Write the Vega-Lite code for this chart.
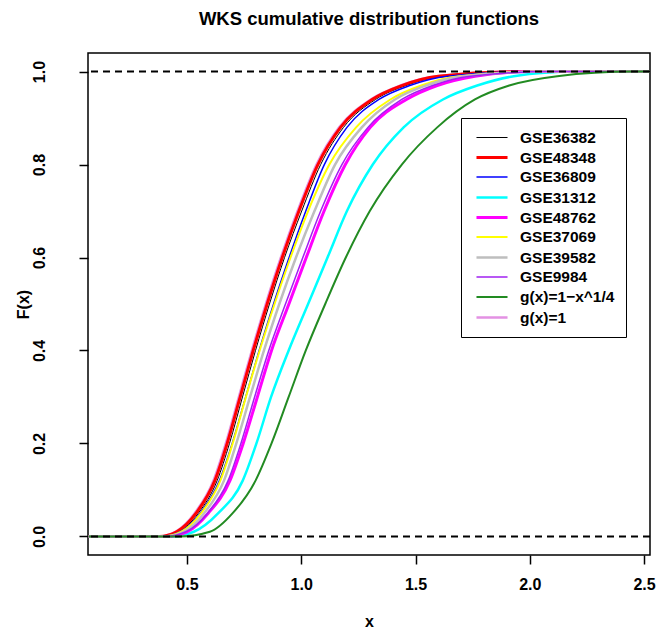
{
  "$schema": "https://vega.github.io/schema/vega-lite/v6.json",
  "width": 562,
  "height": 502,
  "autosize": {"type": "none"},
  "padding": {"left": 88, "top": 53, "right": 7, "bottom": 80},
  "background": "white",
  "title": {"text": "WKS cumulative distribution functions", "fontSize": 18.5, "font": "Liberation Sans", "fontWeight": "bold", "anchor": "middle", "offset": 25, "color": "black"},
  "config": {
    "view": {"stroke": "black", "strokeWidth": 1.5},
    "axis": {"domain": false, "grid": false, "tickColor": "black", "tickWidth": 1.5, "tickSize": 9, "labelFont": "Liberation Sans", "labelFontSize": 16, "labelFontWeight": "bold", "labelColor": "black", "titleFont": "Liberation Sans", "titleFontSize": 16, "titleFontWeight": "bold", "titleColor": "black"}
  },
  "datasets": {
    "curves": [
      {"series": "g(x)=1", "x": 0.07, "F": 0}, {"series": "g(x)=1", "x": 0.374, "F": 0}, {"series": "g(x)=1", "x": 0.449, "F": 0.01}, {"series": "g(x)=1", "x": 0.534, "F": 0.05}, {"series": "g(x)=1", "x": 0.616, "F": 0.12}, {"series": "g(x)=1", "x": 0.67, "F": 0.2}, {"series": "g(x)=1", "x": 0.727, "F": 0.3}, {"series": "g(x)=1", "x": 0.784, "F": 0.4}, {"series": "g(x)=1", "x": 0.845, "F": 0.5}, {"series": "g(x)=1", "x": 0.911, "F": 0.6}, {"series": "g(x)=1", "x": 0.984, "F": 0.7}, {"series": "g(x)=1", "x": 1.067, "F": 0.8}, {"series": "g(x)=1", "x": 1.166, "F": 0.88}, {"series": "g(x)=1", "x": 1.304, "F": 0.94}, {"series": "g(x)=1", "x": 1.434, "F": 0.97}, {"series": "g(x)=1", "x": 1.594, "F": 0.99}, {"series": "g(x)=1", "x": 1.95, "F": 1}, {"series": "g(x)=1", "x": 2.526, "F": 1},

      {"series": "GSE36382", "x": 0.07, "F": 0}, {"series": "GSE36382", "x": 0.39, "F": 0}, {"series": "GSE36382", "x": 0.465, "F": 0.01}, {"series": "GSE36382", "x": 0.55, "F": 0.05}, {"series": "GSE36382", "x": 0.632, "F": 0.12}, {"series": "GSE36382", "x": 0.686, "F": 0.2}, {"series": "GSE36382", "x": 0.743, "F": 0.3}, {"series": "GSE36382", "x": 0.8, "F": 0.4}, {"series": "GSE36382", "x": 0.861, "F": 0.5}, {"series": "GSE36382", "x": 0.927, "F": 0.6}, {"series": "GSE36382", "x": 1.002, "F": 0.7}, {"series": "GSE36382", "x": 1.085, "F": 0.8}, {"series": "GSE36382", "x": 1.185, "F": 0.88}, {"series": "GSE36382", "x": 1.325, "F": 0.94}, {"series": "GSE36382", "x": 1.458, "F": 0.97}, {"series": "GSE36382", "x": 1.62, "F": 0.99}, {"series": "GSE36382", "x": 1.98, "F": 1}, {"series": "GSE36382", "x": 2.526, "F": 1},

      {"series": "GSE48348", "x": 0.07, "F": 0}, {"series": "GSE48348", "x": 0.38, "F": 0}, {"series": "GSE48348", "x": 0.455, "F": 0.01}, {"series": "GSE48348", "x": 0.54, "F": 0.05}, {"series": "GSE48348", "x": 0.622, "F": 0.12}, {"series": "GSE48348", "x": 0.676, "F": 0.2}, {"series": "GSE48348", "x": 0.733, "F": 0.3}, {"series": "GSE48348", "x": 0.79, "F": 0.4}, {"series": "GSE48348", "x": 0.851, "F": 0.5}, {"series": "GSE48348", "x": 0.917, "F": 0.6}, {"series": "GSE48348", "x": 0.99, "F": 0.7}, {"series": "GSE48348", "x": 1.073, "F": 0.8}, {"series": "GSE48348", "x": 1.172, "F": 0.88}, {"series": "GSE48348", "x": 1.31, "F": 0.94}, {"series": "GSE48348", "x": 1.44, "F": 0.97}, {"series": "GSE48348", "x": 1.6, "F": 0.99}, {"series": "GSE48348", "x": 1.95, "F": 1}, {"series": "GSE48348", "x": 2.526, "F": 1},

      {"series": "GSE36809", "x": 0.07, "F": 0}, {"series": "GSE36809", "x": 0.39, "F": 0}, {"series": "GSE36809", "x": 0.47, "F": 0.01}, {"series": "GSE36809", "x": 0.558, "F": 0.05}, {"series": "GSE36809", "x": 0.642, "F": 0.12}, {"series": "GSE36809", "x": 0.698, "F": 0.2}, {"series": "GSE36809", "x": 0.757, "F": 0.3}, {"series": "GSE36809", "x": 0.816, "F": 0.4}, {"series": "GSE36809", "x": 0.879, "F": 0.5}, {"series": "GSE36809", "x": 0.947, "F": 0.6}, {"series": "GSE36809", "x": 1.02, "F": 0.7}, {"series": "GSE36809", "x": 1.101, "F": 0.8}, {"series": "GSE36809", "x": 1.2, "F": 0.88}, {"series": "GSE36809", "x": 1.34, "F": 0.94}, {"series": "GSE36809", "x": 1.475, "F": 0.97}, {"series": "GSE36809", "x": 1.64, "F": 0.99}, {"series": "GSE36809", "x": 2.0, "F": 1}, {"series": "GSE36809", "x": 2.526, "F": 1},

      {"series": "GSE31312", "x": 0.07, "F": 0}, {"series": "GSE31312", "x": 0.43, "F": 0}, {"series": "GSE31312", "x": 0.53, "F": 0.01}, {"series": "GSE31312", "x": 0.637, "F": 0.05}, {"series": "GSE31312", "x": 0.744, "F": 0.12}, {"series": "GSE31312", "x": 0.804, "F": 0.2}, {"series": "GSE31312", "x": 0.868, "F": 0.3}, {"series": "GSE31312", "x": 0.945, "F": 0.4}, {"series": "GSE31312", "x": 1.03, "F": 0.5}, {"series": "GSE31312", "x": 1.115, "F": 0.6}, {"series": "GSE31312", "x": 1.2, "F": 0.7}, {"series": "GSE31312", "x": 1.313, "F": 0.8}, {"series": "GSE31312", "x": 1.448, "F": 0.88}, {"series": "GSE31312", "x": 1.62, "F": 0.94}, {"series": "GSE31312", "x": 1.77, "F": 0.97}, {"series": "GSE31312", "x": 1.93, "F": 0.99}, {"series": "GSE31312", "x": 2.2, "F": 1}, {"series": "GSE31312", "x": 2.526, "F": 1},

      {"series": "GSE48762", "x": 0.07, "F": 0}, {"series": "GSE48762", "x": 0.41, "F": 0}, {"series": "GSE48762", "x": 0.5, "F": 0.01}, {"series": "GSE48762", "x": 0.593, "F": 0.05}, {"series": "GSE48762", "x": 0.688, "F": 0.12}, {"series": "GSE48762", "x": 0.746, "F": 0.2}, {"series": "GSE48762", "x": 0.808, "F": 0.3}, {"series": "GSE48762", "x": 0.87, "F": 0.4}, {"series": "GSE48762", "x": 0.946, "F": 0.5}, {"series": "GSE48762", "x": 1.022, "F": 0.6}, {"series": "GSE48762", "x": 1.1, "F": 0.7}, {"series": "GSE48762", "x": 1.193, "F": 0.8}, {"series": "GSE48762", "x": 1.302, "F": 0.88}, {"series": "GSE48762", "x": 1.46, "F": 0.94}, {"series": "GSE48762", "x": 1.595, "F": 0.97}, {"series": "GSE48762", "x": 1.76, "F": 0.99}, {"series": "GSE48762", "x": 2.0, "F": 1}, {"series": "GSE48762", "x": 2.526, "F": 1},

      {"series": "GSE37069", "x": 0.07, "F": 0}, {"series": "GSE37069", "x": 0.395, "F": 0}, {"series": "GSE37069", "x": 0.475, "F": 0.01}, {"series": "GSE37069", "x": 0.562, "F": 0.05}, {"series": "GSE37069", "x": 0.646, "F": 0.12}, {"series": "GSE37069", "x": 0.7, "F": 0.2}, {"series": "GSE37069", "x": 0.758, "F": 0.3}, {"series": "GSE37069", "x": 0.818, "F": 0.4}, {"series": "GSE37069", "x": 0.883, "F": 0.5}, {"series": "GSE37069", "x": 0.953, "F": 0.6}, {"series": "GSE37069", "x": 1.03, "F": 0.7}, {"series": "GSE37069", "x": 1.123, "F": 0.8}, {"series": "GSE37069", "x": 1.24, "F": 0.88}, {"series": "GSE37069", "x": 1.39, "F": 0.94}, {"series": "GSE37069", "x": 1.525, "F": 0.97}, {"series": "GSE37069", "x": 1.69, "F": 0.99}, {"series": "GSE37069", "x": 2.05, "F": 1}, {"series": "GSE37069", "x": 2.526, "F": 1},

      {"series": "GSE39582", "x": 0.07, "F": 0}, {"series": "GSE39582", "x": 0.4, "F": 0}, {"series": "GSE39582", "x": 0.485, "F": 0.01}, {"series": "GSE39582", "x": 0.575, "F": 0.05}, {"series": "GSE39582", "x": 0.662, "F": 0.12}, {"series": "GSE39582", "x": 0.716, "F": 0.2}, {"series": "GSE39582", "x": 0.776, "F": 0.3}, {"series": "GSE39582", "x": 0.837, "F": 0.4}, {"series": "GSE39582", "x": 0.904, "F": 0.5}, {"series": "GSE39582", "x": 0.977, "F": 0.6}, {"series": "GSE39582", "x": 1.058, "F": 0.7}, {"series": "GSE39582", "x": 1.148, "F": 0.8}, {"series": "GSE39582", "x": 1.265, "F": 0.88}, {"series": "GSE39582", "x": 1.41, "F": 0.94}, {"series": "GSE39582", "x": 1.545, "F": 0.97}, {"series": "GSE39582", "x": 1.71, "F": 0.99}, {"series": "GSE39582", "x": 2.08, "F": 1}, {"series": "GSE39582", "x": 2.526, "F": 1},

      {"series": "GSE9984", "x": 0.07, "F": 0}, {"series": "GSE9984", "x": 0.405, "F": 0}, {"series": "GSE9984", "x": 0.495, "F": 0.01}, {"series": "GSE9984", "x": 0.59, "F": 0.05}, {"series": "GSE9984", "x": 0.68, "F": 0.12}, {"series": "GSE9984", "x": 0.736, "F": 0.2}, {"series": "GSE9984", "x": 0.796, "F": 0.3}, {"series": "GSE9984", "x": 0.858, "F": 0.4}, {"series": "GSE9984", "x": 0.931, "F": 0.5}, {"series": "GSE9984", "x": 1.007, "F": 0.6}, {"series": "GSE9984", "x": 1.085, "F": 0.7}, {"series": "GSE9984", "x": 1.178, "F": 0.8}, {"series": "GSE9984", "x": 1.292, "F": 0.88}, {"series": "GSE9984", "x": 1.44, "F": 0.94}, {"series": "GSE9984", "x": 1.575, "F": 0.97}, {"series": "GSE9984", "x": 1.74, "F": 0.99}, {"series": "GSE9984", "x": 2.1, "F": 1}, {"series": "GSE9984", "x": 2.526, "F": 1},

      {"series": "g(x)=1\u2212x^1/4", "x": 0.07, "F": 0}, {"series": "g(x)=1\u2212x^1/4", "x": 0.47, "F": 0}, {"series": "g(x)=1\u2212x^1/4", "x": 0.6, "F": 0.01}, {"series": "g(x)=1\u2212x^1/4", "x": 0.7, "F": 0.05}, {"series": "g(x)=1\u2212x^1/4", "x": 0.8, "F": 0.12}, {"series": "g(x)=1\u2212x^1/4", "x": 0.87, "F": 0.2}, {"series": "g(x)=1\u2212x^1/4", "x": 0.945, "F": 0.3}, {"series": "g(x)=1\u2212x^1/4", "x": 1.02, "F": 0.4}, {"series": "g(x)=1\u2212x^1/4", "x": 1.105, "F": 0.5}, {"series": "g(x)=1\u2212x^1/4", "x": 1.195, "F": 0.6}, {"series": "g(x)=1\u2212x^1/4", "x": 1.3, "F": 0.7}, {"series": "g(x)=1\u2212x^1/4", "x": 1.44, "F": 0.8}, {"series": "g(x)=1\u2212x^1/4", "x": 1.595, "F": 0.88}, {"series": "g(x)=1\u2212x^1/4", "x": 1.76, "F": 0.94}, {"series": "g(x)=1\u2212x^1/4", "x": 1.91, "F": 0.97}, {"series": "g(x)=1\u2212x^1/4", "x": 2.12, "F": 0.99}, {"series": "g(x)=1\u2212x^1/4", "x": 2.45, "F": 1}, {"series": "g(x)=1\u2212x^1/4", "x": 2.526, "F": 1}
    ],
    "refs": [{"y": 0}, {"y": 1}]
  },
  "layer": [
    {
      "data": {"name": "curves"},
      "mark": {"type": "line", "clip": true, "interpolate": "monotone"},
      "encoding": {
        "x": {"field": "x", "type": "quantitative", "scale": {"domain": [0.067, 2.526], "nice": false, "zero": false}, "axis": {"values": [0.5, 1, 1.5, 2, 2.5], "format": ".1f", "title": "x", "labelPadding": 12, "titlePadding": 21}},
        "y": {"field": "F", "type": "quantitative", "scale": {"domain": [-0.04, 1.04], "nice": false, "zero": false}, "axis": {"values": [0, 0.2, 0.4, 0.6, 0.8, 1], "format": ".1f", "title": "F(x)", "labelAngle": 270, "labelPadding": 32, "titlePadding": 0}},
        "color": {
          "field": "series", "type": "nominal",
          "scale": {"domain": ["GSE36382", "GSE48348", "GSE36809", "GSE31312", "GSE48762", "GSE37069", "GSE39582", "GSE9984", "g(x)=1\u2212x^1/4", "g(x)=1"],
                    "range": ["#000000", "#FF0000", "#0000FF", "#00FFFF", "#FF00FF", "#FFFF00", "#BEBEBE", "#A020F0", "#228B22", "#E391E3"]},
          "legend": {"title": null, "orient": "none", "legendX": 373, "legendY": 65, "strokeColor": "black", "fillColor": "white", "padding": 11, "symbolType": "M-1.94,0H1.94", "symbolSize": 256, "symbolOffset": 10.5, "labelOffset": 18.5, "labelFontSize": 15.5, "labelFont": "Liberation Sans", "labelFontWeight": "bold", "labelColor": "black", "rowPadding": 2}
        },
        "strokeWidth": {
          "field": "series", "type": "nominal",
          "scale": {"type": "ordinal", "domain": ["GSE36382", "GSE48348", "GSE36809", "GSE31312", "GSE48762", "GSE37069", "GSE39582", "GSE9984", "g(x)=1\u2212x^1/4", "g(x)=1"],
                    "range": [1, 3, 1.5, 2.5, 3, 2, 2.5, 1.5, 2, 2.5]},
          "legend": {"title": null, "orient": "none", "legendX": 373, "legendY": 65, "strokeColor": "black", "fillColor": "white", "padding": 11, "symbolType": "M-1.94,0H1.94", "symbolSize": 256, "symbolOffset": 10.5, "labelOffset": 18.5, "labelFontSize": 15.5, "labelFont": "Liberation Sans", "labelFontWeight": "bold", "labelColor": "black", "rowPadding": 2}
        }
      }
    },
    {
      "data": {"name": "refs"},
      "mark": {"type": "rule", "strokeDash": [7, 5], "strokeWidth": 2, "color": "black"},
      "encoding": {"y": {"field": "y", "type": "quantitative"}}
    }
  ]
}
